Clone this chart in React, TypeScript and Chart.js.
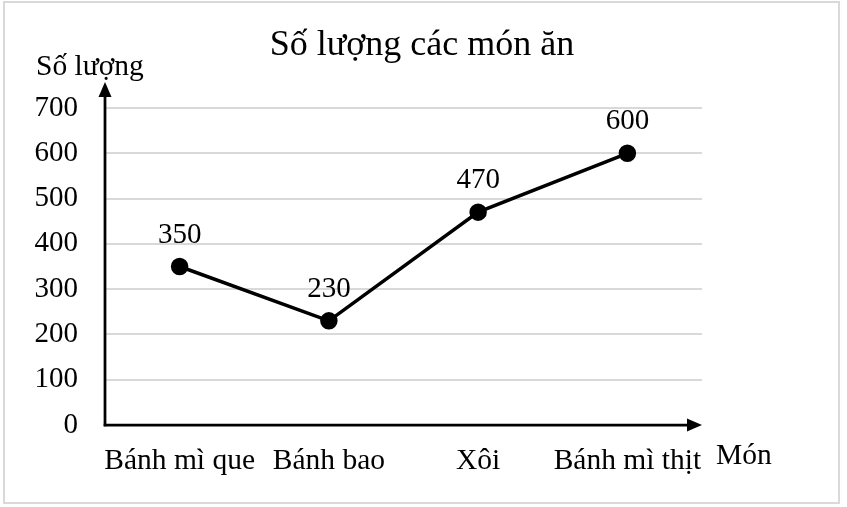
import { useEffect, useRef } from "react";
import { Chart, registerables } from "chart.js";

Chart.register(...registerables);

const categories = ["Bánh mì que", "Bánh bao", "Xôi", "Bánh mì thịt"];
const values = [350, 230, 470, 600];
const yMin = 0;
const yMax = 700;
const yStep = 100;
const chartTitle = "Số lượng các món ăn";
const yAxisTitle = "Số lượng";
const xAxisTitle = "Món";

const FONT = "'Liberation Serif', 'Times New Roman', serif";

const decorPlugin = {
  id: "decor",
  beforeDraw(chart: any) {
    const ctx = chart.ctx;
    ctx.save();
    ctx.fillStyle = "#ffffff";
    ctx.fillRect(0, 0, chart.width, chart.height);
    ctx.strokeStyle = "#d9d9d9";
    ctx.lineWidth = 2;
    ctx.strokeRect(4, 2, 835, 501);
    ctx.restore();
  },
  beforeDatasetsDraw(chart: any) {
    const ctx = chart.ctx;
    const a = chart.chartArea;
    ctx.save();
    ctx.strokeStyle = "#000";
    ctx.fillStyle = "#000";
    ctx.lineWidth = 2.75;
    // y axis
    const yTip = a.top - 26;
    ctx.beginPath();
    ctx.moveTo(a.left, a.bottom + 1.3);
    ctx.lineTo(a.left, yTip + 10);
    ctx.stroke();
    ctx.beginPath();
    ctx.moveTo(a.left, yTip);
    ctx.lineTo(a.left - 6.5, yTip + 15);
    ctx.lineTo(a.left + 6.5, yTip + 15);
    ctx.closePath();
    ctx.fill();
    // x axis
    const xTip = a.right;
    ctx.beginPath();
    ctx.moveTo(a.left - 1.3, a.bottom);
    ctx.lineTo(xTip - 10, a.bottom);
    ctx.stroke();
    ctx.beginPath();
    ctx.moveTo(xTip, a.bottom);
    ctx.lineTo(xTip - 15, a.bottom - 6.5);
    ctx.lineTo(xTip - 15, a.bottom + 6.5);
    ctx.closePath();
    ctx.fill();
    ctx.restore();
  },
  afterDatasetsDraw(chart: any) {
    const ctx = chart.ctx;
    const a = chart.chartArea;
    ctx.save();
    ctx.fillStyle = "#000";
    // data labels
    ctx.font = `29px ${FONT}`;
    ctx.textAlign = "center";
    ctx.textBaseline = "alphabetic";
    const meta = chart.getDatasetMeta(0);
    meta.data.forEach((pt: any, i: number) => {
      ctx.fillText(String(values[i]), pt.x, pt.y - 24);
    });
    // title
    ctx.font = `36px ${FONT}`;
    ctx.fillText(chartTitle, 422, 55);
    // y axis title
    ctx.font = `29.5px ${FONT}`;
    ctx.textAlign = "left";
    ctx.fillText(yAxisTitle, 36, 75);
    // x axis title
    ctx.fillText(xAxisTitle, a.right + 14, 464);
    ctx.restore();
  },
};

export default function App() {
  const ref = useRef<HTMLCanvasElement | null>(null);

  useEffect(() => {
    document.body.style.margin = "0";
    if (!ref.current) return;
    const chart = new Chart(ref.current, {
      type: "line",
      data: {
        labels: categories,
        datasets: [
          {
            data: values,
            borderColor: "#000",
            backgroundColor: "#000",
            borderWidth: 3.5,
            pointRadius: 7,
            pointBackgroundColor: "#000",
            pointBorderColor: "#000",
            tension: 0,
          },
        ],
      },
      options: {
        responsive: false,
        animation: false,
        devicePixelRatio: 1,
        layout: { padding: { left: 0, right: 847 - 702, top: 108, bottom: 0 } },
        plugins: {
          legend: { display: false },
          title: { display: false },
          tooltip: { enabled: false },
        },
        scales: {
          x: {
            type: "category",
            offset: true,
            border: { display: false },
            grid: { display: false, drawTicks: false },
            ticks: {
              color: "#000",
              font: { family: FONT, size: 29.5 },
              padding: 19,
              maxRotation: 0,
              minRotation: 0,
              autoSkip: false,
            },
            afterFit: (s: any) => {
              s.height = 507 - 425;
            },
          },
          y: {
            min: yMin,
            max: yMax,
            border: { display: false },
            grid: {
              drawTicks: false,
              color: (c: any) => (c.tick && c.tick.value === 0 ? "rgba(0,0,0,0)" : "#d9d9d9"),
              lineWidth: 2,
            },
            ticks: {
              stepSize: yStep,
              color: "#000",
              font: { family: FONT, size: 29 },
              padding: 27,
            },
            afterFit: (s: any) => {
              s.width = 105;
            },
          },
        },
      },
      plugins: [decorPlugin],
    });
    return () => chart.destroy();
  }, []);

  return (
    <div style={{ width: 847, height: 507 }}>
      <canvas ref={ref} width={847} height={507} style={{ display: "block" }} />
    </div>
  );
}
